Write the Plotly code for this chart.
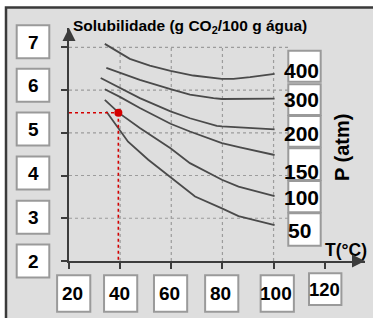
import plotly.graph_objects as go

# ---------------- data ----------------
x_ticks = [20, 40, 60, 80, 100, 120]
y_ticks = [2, 3, 4, 5, 6, 7]
pressures = ["400", "300", "200", "150", "100", "50"]

T400 = [34.0, 39.9, 43.8, 51.6, 59.7, 68.6, 79.7, 84.3, 90.8, 100.4]
S400 = [7.08, 6.87, 6.73, 6.57, 6.45, 6.34, 6.26, 6.26, 6.30, 6.38]
T300 = [34.6, 39.9, 47.7, 59.7, 67.3, 76.5, 79.8, 100.4]
S300 = [6.52, 6.41, 6.24, 6.02, 5.89, 5.81, 5.79, 5.80]
T200 = [32.4, 39.9, 47.7, 59.7, 67.3, 77.8, 79.8, 100.4]
S200 = [6.28, 6.05, 5.81, 5.50, 5.34, 5.16, 5.15, 5.08]
T150 = [34.0, 39.9, 47.7, 59.7, 67.3, 79.8, 86.9, 100.4]
S150 = [6.02, 5.84, 5.58, 5.21, 5.03, 4.76, 4.66, 4.48]
T100 = [34.0, 39.6, 47.7, 59.7, 67.3, 79.8, 86.3, 100.4]
S100 = [5.77, 5.46, 5.11, 4.64, 4.29, 3.90, 3.74, 3.52]
T50 = [34.6, 39.6, 43.1, 51.0, 60.2, 69.3, 79.8, 86.3, 100.4]
S50 = [5.50, 5.08, 4.79, 4.37, 3.93, 3.51, 3.23, 3.05, 2.84]

point_T = [39.3]
point_S = [5.47]

curves = [(T400, S400), (T300, S300), (T200, S200),
          (T150, S150), (T100, S100), (T50, S50)]

# ---------------- layout geometry ----------------
W, H = 373, 318
ML, MR, MT, MB = 69, 8, 28, 57
PW, PH = W - ML - MR, H - MT - MB
PX_PER_X = 2.557   # pixels per °C
PX_PER_Y = 42.74   # pixels per g
x_range = [20, 20 + PW / PX_PER_X]
y_range = [2, 2 + PH / PX_PER_Y]


def pxx(px):
    return (px - ML) / PW


def pxy(py):
    return (H - MB - py) / PH


FONT = "Arial, Liberation Sans, sans-serif"
CURVE = "#4a4a4a"
AXIS = "#3c3c3c"
GRID = "#9c9c9c"
BOX_LINE = "#9a9a9a"
RED = "#d40000"

fig = go.Figure()

for T, S in curves:
    fig.add_trace(go.Scatter(x=T, y=S, mode="lines",
                             line=dict(color=CURVE, width=1.8),
                             hoverinfo="skip", showlegend=False))

# red guide lines + point
fig.add_trace(go.Scatter(x=[x_ticks[0], point_T[0]], y=[point_S[0], point_S[0]],
                         mode="lines", line=dict(color=RED, width=1.6, dash="dot"),
                         showlegend=False, hoverinfo="skip"))
fig.add_trace(go.Scatter(x=[point_T[0], point_T[0]], y=[point_S[0], y_ticks[0]],
                         mode="lines", line=dict(color=RED, width=1.6, dash="dot"),
                         showlegend=False, hoverinfo="skip"))
fig.add_trace(go.Scatter(x=point_T, y=point_S, mode="markers",
                         marker=dict(color=RED, size=8),
                         showlegend=False, hoverinfo="skip", cliponaxis=False))

shapes = []
# outer frame / grey background
shapes.append(dict(type="rect", xref="paper", yref="paper",
                   x0=pxx(6), x1=pxx(W + 20), y0=pxy(H + 20), y1=pxy(7.5),
                   fillcolor="#dedede", line=dict(color="#3a3a3a", width=2.5),
                   layer="below"))
# grid lines (limited extent)
grid_x_end = 105.7
for v in y_ticks[1:]:
    shapes.append(dict(type="line", xref="x", yref="y", x0=x_ticks[0], x1=grid_x_end,
                       y0=v, y1=v, line=dict(color=GRID, width=1.2, dash="dot"),
                       layer="below"))
for v in x_ticks[1:-1]:
    shapes.append(dict(type="line", xref="x", yref="y", x0=v, x1=v,
                       y0=y_ticks[0], y1=y_ticks[-1] + 0.03,
                       line=dict(color=GRID, width=1.2, dash="dot"), layer="below"))

annotations = []


def box(x0, x1, y0, y1):
    shapes.append(dict(type="rect", xref="paper", yref="paper",
                       x0=pxx(x0), x1=pxx(x1), y0=pxy(y1), y1=pxy(y0),
                       fillcolor="white", line=dict(color=BOX_LINE, width=2)))


def text(s, cx, cy, size, angle=0, anchor="center"):
    annotations.append(dict(text=s, xref="paper", yref="paper",
                            x=pxx(cx), y=pxy(cy), xanchor=anchor, yanchor="middle",
                            showarrow=False, textangle=angle,
                            font=dict(family=FONT, size=size, color="black")))


# y tick boxes (left column)
y_box_cy = [261, 217.2, 173, 129, 85.3, 41.7]
for v, cy in zip(y_ticks, y_box_cy):
    box(16.7, 49.3, cy - 16.5, cy + 16.5)
    text("<b>%d</b>" % v, 33, cy + 0.5, 19)

# x tick boxes (bottom row)
x_box_shift = [4.7, 0.5, -0.7, -0.7, 3.7, 0.5]
for v, dx in zip(x_ticks, x_box_shift):
    cx = ML + (v - x_range[0]) * PX_PER_X + dx
    if v == 120:
        box(cx - 16.2, cx + 16.2, 273.3, 305)
        text("<b>%d</b>" % v, cx - 1, 289.5, 18.5)
    else:
        box(cx - 16.6, cx + 16.6, 275.3, 311.7)
        text("<b>%d</b>" % v, cx - 1.5, 293.8, 19)

# pressure column
p_boxes = [(50.7, 81.7), (84.3, 115), (116, 146.7), (148.3, 180), (181, 212.3), (213.3, 245.7)]
for y0, y1 in p_boxes:
    box(288.3, 320.7, y0, y1)
p_text_pos = [(301.7, 70.7), (301.7, 99.3), (301.7, 133), (301.3, 171), (301.2, 197), (299, 230)]
for lab, (cx, cy) in zip(pressures, p_text_pos):
    text("<b>%s</b>" % lab, cx, cy, 21)

text("<b>P (atm)</b>", 341.5, 147.5, 20, angle=-90)
text("<b>T(°C)</b>", 345.8, 249.7, 17.5)
text("<b>Solubilidade (g CO<sub>2</sub>/100 g água)</b>", 71, 26.7, 15.5, anchor="left")

# axis arrows
annotations.append(dict(x=x_range[0], y=y_range[1], ax=x_range[0], ay=y_range[1] - 0.3,
                        xref="x", yref="y", axref="x", ayref="y", text="",
                        showarrow=True, arrowhead=2, arrowsize=1.3, arrowwidth=2,
                        arrowcolor=AXIS))
annotations.append(dict(x=x_range[1], y=y_range[0], ax=x_range[1] - 5, ay=y_range[0],
                        xref="x", yref="y", axref="x", ayref="y", text="",
                        showarrow=True, arrowhead=2, arrowsize=1.3, arrowwidth=2,
                        arrowcolor=AXIS))

fig.update_layout(
    width=W, height=H,
    margin=dict(l=ML, r=MR, t=MT, b=MB, pad=0),
    paper_bgcolor="white",
    plot_bgcolor="rgba(0,0,0,0)",
    shapes=shapes,
    annotations=annotations,
    showlegend=False,
    xaxis=dict(range=x_range, showgrid=False, zeroline=False, showline=True,
               linecolor=AXIS, linewidth=2, ticks="outside", ticklen=6, tickwidth=2,
               tickcolor=AXIS, tickvals=x_ticks, showticklabels=False, fixedrange=True),
    yaxis=dict(range=y_range, showgrid=False, zeroline=False, showline=True,
               linecolor=AXIS, linewidth=2, ticks="outside", ticklen=6, tickwidth=2,
               tickcolor=AXIS, tickvals=y_ticks, showticklabels=False, fixedrange=True),
)

fig.write_html("out.html", config={"displayModeBar": False},
               post_script="document.body.style.margin='0';document.body.style.overflow='hidden';")
